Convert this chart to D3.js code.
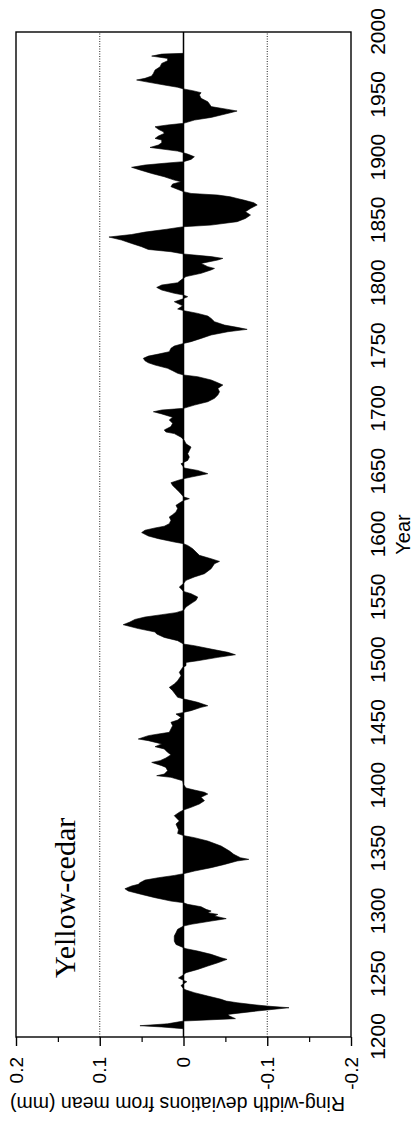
<!DOCTYPE html>
<html>
<head>
<meta charset="utf-8">
<script src="https://cdn.jsdelivr.net/npm/d3@7"></script>
<style>
  html, body { margin: 0; padding: 0; background: #fff; }
  svg { display: block; }
</style>
</head>
<body>
<div id="chart"></div>
<script>
// ring-width series
var years = [1204,1206.6,1208,1209,1210.5,1212.7,1214.6,1216.7,1218,1220.7,1223.3,1224.6,1226,1227.3,1228.6,1230,1232.6,1235.3,1237.4,1238.5,
  1241,1244,1247,1249.5,1251.2,1253.8,1256.5,1259.1,1261.8,1263.1,1265.8,1268.4,1270.3,1271.1,1273.7,1276.3,1280.4,1283,1285.7,1288.3,
  1289.7,1292.3,1294.2,1296.3,1297.6,1299,1300.3,1301.6,1303.7,1305.6,1306.9,1308.2,1310.9,1313.5,1316.2,1318,1320.2,1321.5,1322.8,1324.9,
  1326.8,1328.6,1330,1332.1,1334.8,1337.4,1340.1,1341.4,1342.7,1345.4,1348,1352,1356,1358.7,1360.3,1362,1365,1369.5,1372,1376.2,
  1378.9,1380.7,1382.8,1385.5,1388.1,1390.8,1393.4,1394.8,1396.6,1398.2,1401,1404,1406.7,1408,1409.3,1412,1414.6,1416,1418.6,1420,
  1422.1,1424.7,1426.6,1429.3,1431.1,1433.3,1435.9,1437.2,1439.9,1441.2,1442.5,1445.2,1447.8,1450.5,1452.3,1454.4,1457.1,1458.4,1459.8,1462.4,
  1463.7,1466.4,1469,1470.4,1475.7,1478.3,1481,1483.6,1487.6,1490.3,1494.2,1495.6,1498.2,1499.5,1502.2,1504.3,1506.2,1508.8,1511.5,1512.8,
  1515.5,1518.1,1520.8,1522.4,1525.1,1528.2,1530.3,1532.4,1534.3,1536.2,1537.8,1539.6,1542.3,1545,1547.6,1550.2,1552.9,1554.7,1558.2,1561,
  1563.5,1566.2,1568.8,1572.8,1576.8,1578.6,1580.7,1583.4,1586,1588.7,1591.3,1592.7,1594,1596.7,1598.8,1601.5,1603.4,1605.2,1606.6,1608.6,
  1611.3,1613.9,1615.8,1617.9,1620.6,1623.2,1625.8,1627,1628.5,1630,1633.8,1636.4,1639.1,1641.2,1643,1644.4,1645.7,1648.4,1651,1652.9,
  1656.3,1659,1661.6,1664.3,1666.9,1669.6,1672.2,1674.9,1677.5,1680.3,1681.6,1683.2,1685.9,1688.5,1691.2,1693.3,1696,1697.7,1699.1,1700.4,
  1703,1705.7,1708.4,1711,1713.6,1716.3,1719,1720.8,1723,1725.6,1727,1728.3,1730.4,1732.3,1734.9,1736.7,1738.3,1740.2,1742,1743.6,
  1745.5,1748.2,1750,1752.1,1753.5,1756.1,1758.8,1761.4,1763.3,1764.9,1766.7,1769.4,1772,1773.9,1776,1778.1,1779.5,1782,1785.3,1787,
  1789.3,1790.6,1792,1794.6,1796.7,1798.6,1800.4,1802.5,1804,1805.3,1807.9,1810.6,1811.8,1813.2,1815.8,1818.5,1819.8,1821.2,1823.3,1825.1,
  1826.9,1829.1,1831.7,1834.4,1836.8,1838.8,1840.7,1843,1845,1846.3,1849,1851.6,1854.3,1856.9,1859.6,1862.3,1864.1,1866.2,1867.5,1868.8,
  1870.2,1871.5,1872.9,1874.2,1876.9,1879,1880.8,1882.1,1884.8,1887.4,1890.2,1892.3,1894.1,1895.5,1896.8,1898.6,1900.7,1902.8,1903.9,1905.2,
  1908.1,1910,1911.8,1914,1915.3,1917.2,1919.3,1920.6,1922.5,1924.6,1926,1927.3,1929.9,1932,1933.9,1935.7,1937.1,1938.4,1940.6,1942.7,
  1944.5,1947.2,1949.9,1951.7,1953.3,1954.7,1956,1957.8,1960.5,1961.8,1963.1,1965,1967,1969.7,1972.3,1975,1977.1,1979,1980.8,1982.4,
  1983];
var deviations = [0,0,0.026,0.052,0.019,0,-0.062,-0.055,-0.053,-0.088,-0.126,-0.100,-0.080,-0.064,-0.051,-0.045,-0.029,-0.013,-0.003,0,
  0.003,-0.004,0.006,0,-0.003,-0.017,-0.029,-0.041,-0.052,-0.045,-0.033,-0.017,-0.003,0,0.009,0.011,0.011,0.009,0.007,0,
  -0.009,-0.033,-0.051,-0.037,-0.041,-0.029,-0.033,-0.027,-0.021,-0.005,0,0.015,0.034,0.050,0.066,0.070,0.062,0.054,0.052,0.046,
  0.030,0.011,0,-0.013,-0.033,-0.049,-0.064,-0.078,-0.068,-0.060,-0.055,-0.045,-0.029,-0.013,0,0.007,0.006,0.009,0.005,0.011,
  0.005,0,-0.009,-0.019,-0.025,-0.021,-0.029,-0.025,-0.013,-0.003,0,0.001,0.015,0.032,0.023,0.019,0.021,0.026,0.038,0.028,
  0.021,0.015,0.019,0.023,0.034,0.026,0.042,0.054,0.042,0.030,0.017,0.015,0.013,0.015,0.007,0.003,0.009,0,-0.009,-0.021,
  -0.029,-0.017,-0.001,0.007,0.013,0.017,0.011,0.007,0.003,0.005,0.001,-0.003,-0.003,-0.017,-0.041,-0.062,-0.053,-0.033,-0.013,0,
  0.007,0.023,0.032,0.034,0.054,0.072,0.064,0.058,0.046,0.026,0.009,0,-0.003,-0.009,-0.015,-0.017,-0.009,0,0.005,0,
  -0.003,-0.013,-0.025,-0.033,-0.037,-0.043,-0.033,-0.019,-0.015,-0.011,-0.005,0,0.011,0.030,0.042,0.050,0.046,0.034,0.023,0.017,
  0.015,0.017,0.013,0.009,0.007,0.009,0.003,0,-0.007,0,0.005,0.009,0.013,0.015,0.007,0,-0.009,-0.029,-0.017,-0.001,
  0.003,-0.005,-0.007,-0.005,-0.007,-0.009,-0.003,-0.001,0.003,0.011,0.021,0.023,0.015,0.013,0.017,0.013,0.026,0.036,0.026,0,
  -0.013,-0.029,-0.037,-0.041,-0.043,-0.041,-0.047,-0.041,-0.033,-0.017,0,0.007,0.013,0.019,0.034,0.042,0.046,0.048,0.042,0.030,
  0.017,0.015,0.011,0,-0.009,-0.021,-0.033,-0.053,-0.076,-0.064,-0.049,-0.037,-0.033,-0.029,-0.017,-0.001,0.007,0.001,0.011,0.003,
  -0.005,0,0.011,0.026,0.032,0.026,0.007,0.003,0,-0.003,-0.021,-0.033,-0.037,-0.029,-0.021,-0.041,-0.047,-0.033,0,0.015,
  0.042,0.050,0.062,0.074,0.089,0.062,0.046,0.020,0,-0.033,-0.064,-0.074,-0.080,-0.074,-0.080,-0.088,-0.084,-0.072,-0.064,-0.056,
  -0.041,-0.009,0,0.005,0.015,0.013,0.003,0.011,0.023,0.038,0.052,0.062,0.046,0.023,0,-0.009,-0.013,-0.005,0,0.007,
  0.040,0.030,0.026,0.026,0.034,0.030,0.023,0.024,0.030,0.034,0.019,0,-0.013,-0.033,-0.045,-0.056,-0.064,-0.053,-0.033,-0.031,
  -0.029,-0.021,-0.019,-0.021,-0.011,0,0.007,0.023,0.046,0.056,0.046,0.038,0.036,0.034,0.028,0.026,0.019,0.019,0.038,0.026,
  0];

var yearTicks = [1200,1250,1300,1350,1400,1450,1500,1550,1600,1650,1700,1750,1800,1850,1900,1950,2000];
var valueTicks = [-0.2,-0.1,0,0.1,0.2];
var minorTicks = [-0.15,-0.05,0.05,0.15];
var gridValues = [-0.1,0.1];

var pageW = 413, pageH = 1124;
// chart is drawn landscape then turned a quarter turn to the left
var W = pageH, H = pageW;
var margin = {left: 87, right: 32, top: 16, bottom: 62};

var x = d3.scaleLinear().domain([1200, 2000]).range([margin.left, W - margin.right]);
var y = d3.scaleLinear().domain([-0.2, 0.2]).range([H - margin.bottom, margin.top]);

var svg = d3.select("#chart").append("svg")
  .attr("width", pageW)
  .attr("height", pageH);

svg.append("rect").attr("width", pageW).attr("height", pageH).attr("fill", "#fff");

var g = svg.append("g")
  .attr("transform", "translate(0," + pageH + ") rotate(-90)");

var series = years.map(function(d, i) { return {year: d, v: deviations[i]}; });

// dotted grid at +/-0.1
g.selectAll(".grid").data(gridValues).enter().append("line")
  .attr("class", "grid")
  .attr("x1", x(1200)).attr("x2", x(2000))
  .attr("y1", function(d) { return y(d); })
  .attr("y2", function(d) { return y(d); })
  .attr("stroke", "#222").attr("stroke-width", 1)
  .attr("stroke-dasharray", "1,1.5");

var area = d3.area()
  .x(function(d) { return x(d.year); })
  .y0(y(0))
  .y1(function(d) { return y(d.v); });

g.append("path")
  .datum(series)
  .attr("d", area)
  .attr("fill", "#000")
  .attr("stroke", "#000")
  .attr("stroke-width", 0.6)
  .attr("stroke-linejoin", "round");

// zero line
g.append("line")
  .attr("x1", x(1200)).attr("x2", x(2000))
  .attr("y1", y(0)).attr("y2", y(0))
  .attr("stroke", "#000").attr("stroke-width", 1.5);

// frame
g.append("rect")
  .attr("x", x(1200)).attr("y", y(0.2))
  .attr("width", x(2000) - x(1200))
  .attr("height", y(-0.2) - y(0.2))
  .attr("fill", "none")
  .attr("stroke", "#000").attr("stroke-width", 1.4);

var font = "'Liberation Sans', Arial, Helvetica, sans-serif";

// value axis
var yAxis = g.append("g")
  .attr("transform", "translate(" + x(1200) + ",0)")
  .call(d3.axisLeft(y).tickValues(valueTicks).tickSize(9).tickPadding(11)
    .tickFormat(function(d) { return d === 0 ? "0" : String(d); }));
yAxis.select(".domain").remove();
yAxis.selectAll("line").attr("stroke", "#000").attr("stroke-width", 1.4);
yAxis.selectAll("text").attr("font-family", font).attr("font-size", "19px").attr("fill", "#000");

var yMinor = g.append("g")
  .attr("transform", "translate(" + x(1200) + ",0)")
  .call(d3.axisLeft(y).tickValues(minorTicks).tickSize(5).tickFormat(""));
yMinor.select(".domain").remove();
yMinor.selectAll("line").attr("stroke", "#000").attr("stroke-width", 1.2);

// year axis labels, no tick marks
var xAxis = g.append("g")
  .attr("transform", "translate(0," + y(-0.2) + ")")
  .call(d3.axisBottom(x).tickValues(yearTicks).tickSize(0).tickPadding(19).tickFormat(d3.format("d")));
xAxis.select(".domain").remove();
xAxis.selectAll("text").attr("font-family", font).attr("font-size", "21px").attr("fill", "#000");

g.append("text")
  .attr("x", (x(1200) + x(2000)) / 2)
  .attr("y", 410)
  .attr("text-anchor", "middle")
  .attr("font-family", font).attr("font-size", "20px")
  .text("Year");

g.append("text")
  .attr("transform", "translate(27," + (y(0) - 6) + ") rotate(-90)")
  .attr("text-anchor", "middle")
  .attr("font-family", font).attr("font-size", "19.5px")
  .text("Ring-width deviations from mean (mm)");

g.append("text")
  .attr("x", x(1200) + 59)
  .attr("y", 75)
  .attr("font-family", "'Liberation Serif', 'Times New Roman', serif")
  .attr("font-size", "30px")
  .text("Yellow-cedar");
</script>
</body>
</html>
